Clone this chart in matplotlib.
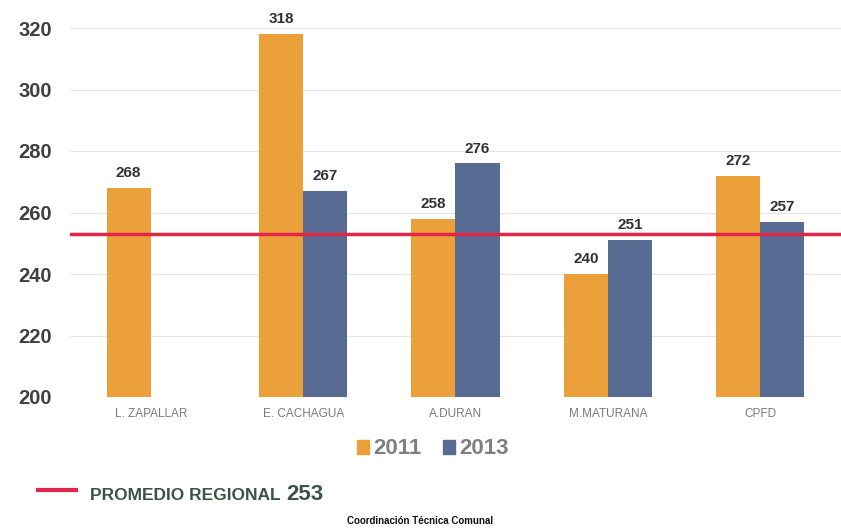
import matplotlib
matplotlib.use("Agg")
import matplotlib.pyplot as plt
import numpy as np
from matplotlib.patches import Rectangle
from matplotlib.lines import Line2D

categories = ["L. ZAPALLAR", "E. CACHAGUA", "A.DURAN", "M.MATURANA", "CPFD"]
series_2011 = [268, 318, 258, 240, 272]
series_2013 = [None, 267, 276, 251, 257]
series_names = ["2011", "2013"]
promedio_regional = 253
yticks = [200, 220, 240, 260, 280, 300, 320]

ORANGE = "#EBA03A"
BLUE = "#586B93"
RED = "#E2264A"
W, H = 841, 530

FAM = ["Liberation Sans", "DejaVu Sans"]
plt.rcParams["font.family"] = FAM

fig = plt.figure(figsize=(W / 100, H / 100), dpi=100)
fig.patch.set_facecolor("white")
ax = fig.add_axes([70 / W, (H - 397) / H, (W - 70) / W, (397 - 28) / H])

x = np.arange(len(categories))
bw = 0.29
for i in range(len(categories)):
    v1 = series_2011[i]
    v2 = series_2013[i]
    if v1 is not None:
        ax.bar(x[i] - bw / 2, v1 - 200, bottom=200, width=bw, color=ORANGE, zorder=2)
        ax.text(x[i] - bw / 2, v1 + 2.5, str(v1), ha="center", va="bottom",
                fontsize=11, color="#333333", fontweight="bold", clip_on=False)
    if v2 is not None:
        ax.bar(x[i] + bw / 2, v2 - 200, bottom=200, width=bw, color=BLUE, zorder=2)
        ax.text(x[i] + bw / 2, v2 + 2.5, str(v2), ha="center", va="bottom",
                fontsize=11, color="#333333", fontweight="bold", clip_on=False)

ax.axhline(promedio_regional, color=RED, lw=2.5, zorder=3)

ax.set_ylim(200, 320)
ax.set_xlim(-0.53, 4.53)
ax.set_yticks(yticks)
ax.set_yticklabels([str(t) for t in yticks], fontsize=14.5, color="#404040", fontweight="bold")
ax.set_xticks(x)
ax.set_xticklabels(categories, fontsize=8.5, color="#7a7a7a")
ax.tick_params(axis="both", length=0)
ax.tick_params(axis="y", pad=13)
ax.tick_params(axis="x", pad=8)
for s in ax.spines.values():
    s.set_visible(False)
ax.grid(axis="y", color="#e6e6e6", lw=0.8, zorder=0)
ax.set_axisbelow(True)

# legend
handles = [Rectangle((0, 0), 1, 1, color=ORANGE), Rectangle((0, 0), 1, 1, color=BLUE)]
leg = fig.legend(handles, series_names, loc="center", bbox_to_anchor=(433 / W, 1 - 449 / H),
                 ncol=2, frameon=False, prop={"size": 16, "weight": "bold"},
                 handlelength=0.5, handleheight=0.6,
                 handletextpad=0.2, columnspacing=1.0)
for t in leg.get_texts():
    t.set_color("#7f7f7f")

# promedio regional note
fig.add_artist(Line2D([38 / W, 76 / W], [1 - 490 / H, 1 - 490 / H], color=RED, lw=3))
fig.text(90 / W, 1 - 495 / H, "PROMEDIO REGIONAL", fontsize=12.5, color="#3d5246",
         fontweight="bold", va="center", ha="left")
fig.text(286 / W, 1 - 494 / H, str(promedio_regional), fontsize=16, color="#3d5246",
         fontweight="bold", va="center", ha="left")
fig.text(420 / W, 1 - 521 / H, "Coordinación Técnica Comunal", fontsize=7, color="#111111",
         fontweight="bold", va="center", ha="center")

fig.savefig("out.png", dpi=100, facecolor="white")
